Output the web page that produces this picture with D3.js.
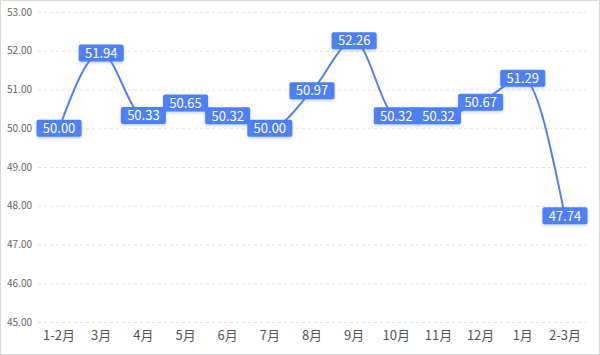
<!DOCTYPE html>
<html><head><meta charset="utf-8">
<script src="https://cdn.jsdelivr.net/npm/d3@7"></script>
<style>body{margin:0;background:#fff}svg{display:block}</style>
</head><body>
<svg id="c" width="600" height="355"></svg>
<script>
const categories = ["1-2月","3月","4月","5月","6月","7月","8月","9月","10月","11月","12月","1月","2-3月"];
const values = [50.00,51.94,50.33,50.65,50.32,50.00,50.97,52.26,50.32,50.32,50.67,51.29,47.74];
const yTicks = [45,46,47,48,49,50,51,52,53];

const svg = d3.select("#c");
const W = 600, H = 355;
const m = {left:38, right:14, top:12, bottom:33};
const font = "'Noto Sans CJK SC','Noto Sans',sans-serif";

svg.append("rect").attr("x",0.5).attr("y",0.5).attr("width",W-1).attr("height",H-1)
  .attr("fill","#fff").attr("stroke","#d9d9d9");

const defs = svg.append("defs");
const f = defs.append("filter").attr("id","sh").attr("x","-30%").attr("y","-50%").attr("width","160%").attr("height","200%");
f.append("feDropShadow").attr("dx",0).attr("dy",1.5).attr("stdDeviation",1.5).attr("flood-color","#4e7cf6").attr("flood-opacity",0.35);

const x = d3.scaleBand().domain(categories).range([m.left, W-m.right]);
const y = d3.scaleLinear().domain([45,53]).range([H-m.bottom, m.top]);

const yAxis = d3.axisLeft(y).tickValues(yTicks).tickFormat(d=>d.toFixed(2)).tickSize(0).tickPadding(6);
const gy = svg.append("g").attr("transform",`translate(${m.left},0)`).call(yAxis);
gy.select(".domain").remove();
gy.selectAll("text").attr("fill","#666").style("font-family",font).style("font-size","10px");

svg.append("g").selectAll("line").data(yTicks).join("line")
  .attr("x1",m.left).attr("x2",W-m.right)
  .attr("y1",d=>y(d)+0.5).attr("y2",d=>y(d)+0.5)
  .attr("stroke","#e3e3e3").attr("stroke-dasharray","3,3");

const xAxis = d3.axisBottom(x).tickSize(0).tickPadding(9);
const gx = svg.append("g").attr("transform",`translate(0,${H-m.bottom})`).call(xAxis);
gx.select(".domain").remove();
gx.selectAll("text").attr("fill","#555").style("font-family",font).style("font-size","13px");

const cx = d => x(d) + x.bandwidth()/2;
const line = d3.line().x((d,i)=>cx(categories[i])).y(d=>y(d)).curve(d3.curveMonotoneX);
svg.append("path").datum(values).attr("d",line).attr("fill","none")
  .attr("stroke","#4f7ff7").attr("stroke-width",2);

const lg = svg.append("g").selectAll("g").data(values).join("g")
  .attr("transform",(d,i)=>`translate(${cx(categories[i])},${y(d)})`);
lg.append("rect").attr("x",-22.5).attr("y",-8.5).attr("width",45).attr("height",17).attr("rx",2)
  .attr("fill","#4f7ff7").attr("filter","url(#sh)");
lg.append("text").text(d=>d.toFixed(2)).attr("text-anchor","middle").attr("dy","0.36em")
  .attr("fill","#fff").style("font-family",font).style("font-size","13px");
</script>
</body></html>
